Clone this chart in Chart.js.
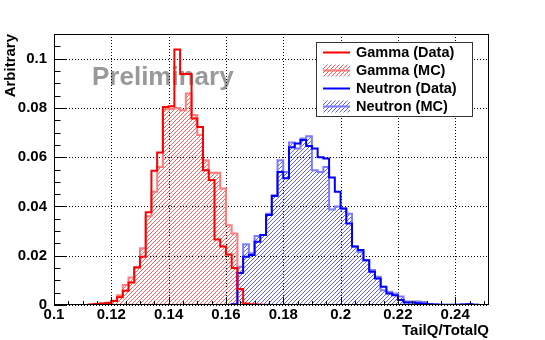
<!DOCTYPE html>
<html><head><meta charset="utf-8">
<style>html,body{margin:0;padding:0;background:#fff;} #wrap{width:545px;height:340px;}</style>
<script src="https://cdn.jsdelivr.net/npm/chart.js@4.4.0/dist/chart.umd.min.js"></script>
</head><body><div id="wrap"><canvas id="c" width="545" height="340"></canvas></div>
<script>
// ---- data ----
const binLow = [0.100,0.102,0.104,0.106,0.108,0.110,0.112,0.114,0.116,0.118,
  0.120,0.122,0.124,0.126,0.128,0.130,0.132,0.134,0.136,0.138,
  0.140,0.142,0.144,0.146,0.148,0.150,0.152,0.154,0.156,0.158,
  0.160,0.162,0.164,0.166,0.168,0.170,0.172,0.174,0.176,0.178,
  0.180,0.182,0.184,0.186,0.188,0.190,0.192,0.194,0.196,0.198,
  0.200,0.202,0.204,0.206,0.208,0.210,0.212,0.214,0.216,0.218,
  0.220,0.222,0.224,0.226,0.228,0.230,0.232,0.234,0.236,0.238,
  0.240,0.242,0.244,0.246,0.248];
const lastEdge = 0.250;

const gammaData = [null,null,null,null,null,null,0.0002,0.0004,0.0006,0.0008,
  0.0016,0.0031,0.0058,0.0091,0.0153,0.0196,0.0376,0.0545,0.0619,0.0804,
  0.0807,0.1037,0.0938,0.0938,0.0757,0.0723,0.0547,0.0507,0.0266,0.0237,
  0.0205,0.0150,0.0065,0.0006,0.0003,0.0002,0.0001,0,0,0,
  0,0,0,0,0,0,0,0,0,0,
  0,0,0,0,0,0,0,0,0,0,
  0,0,0,0,null,null,null,null,null,null,
  null,null,null,null,null];

const gammaMC = [0,0,0,0,0,0,0.0002,0.0004,0.0006,0.0009,
  0.0017,0.0040,0.0081,0.0112,0.0150,0.0230,0.0360,0.0460,0.0560,0.0795,
  0.0797,0.0800,0.0790,0.0858,0.0771,0.0690,0.0588,0.0537,0.0537,0.0473,
  0.0324,0.0290,0,0,0,0,0,0,0,0,
  0,0,0,0,0,0,0,0,0,0,
  0,0,0,0,0,0,0,0,0,0,
  0,0,0,0,0,0,0,0,0,0,
  0,0,0,0,0];

const neutronData = [0,0,0,0,0,0,0,0,0,0,
  0,0,0,0,0,0,0,0,0,0,
  0,0,0,0,0,0,0,0,0,0,
  0,0.0003,0.0130,0.0196,0.0203,0.0257,0.0284,0.0365,0.0442,0.0540,
  0.0514,0.0640,0.0656,0.0670,0.0645,0.0635,0.0600,0.0595,0.0518,0.0460,
  0.0392,0.0331,0.0237,0.0223,0.0182,0.0135,0.0108,0.0074,0.0047,0.0040,
  0.0020,0.0010,0.0010,0.0007,0.0005,0.0003,0.0002,0.0001,0.0001,0.0001,
  0.0001,0.0002,0.0003,0.0001,0];

const neutronMC = [0,0,0,0,0,0,0,0,0,0,
  0,0,0,0,0,0,0,0,0,0,
  0,0,0,0,0,0,0,0,0,0,
  0,0.0002,0.0155,0.0247,0.0210,0.0280,0.0284,0.0370,0.0445,0.0588,
  0.0540,0.0660,0.0635,0.0676,0.0685,0.0547,0.0540,0.0560,0.0388,0.0400,
  0.0392,0.0370,0.0237,0.0215,0.0182,0.0142,0.0115,0.0060,0.0054,0.0047,
  0.0034,0.0014,0.0014,0.0014,0.0012,0.0004,0.0002,0.0001,0,0,
  0.0001,0.0002,0.0003,0.0001,0];

const seriesLabels = ['Gamma (Data)','Gamma (MC)','Neutron (Data)','Neutron (MC)'];
const xTickValues = [0.10,0.12,0.14,0.16,0.18,0.20,0.22,0.24];
const xTickLabels = ['0.1','0.12','0.14','0.16','0.18','0.2','0.22','0.24'];
const yTickValues = [0,0.02,0.04,0.06,0.08,0.10];
const yTickLabels = ['0','0.02','0.04','0.06','0.08','0.1'];
const xTitle = 'TailQ/TotalQ';
const yTitle = 'Arbitrary';
const watermark = 'Preliminary';

// ---- helpers ----
function hist(vals){
  const pts = binLow.map((x,i)=>({x:x, y:vals[i]}));
  const last = vals[vals.length-1];
  if (last !== null) pts.push({x:lastEdge, y:last});
  return pts;
}
function hatch(color){
  const c = document.createElement('canvas'); c.width = 4; c.height = 4;
  const g = c.getContext('2d'); g.fillStyle = color;
  for (let i = 0; i < 4; i++) g.fillRect(i, 3 - i, 1, 1);
  return g.createPattern(c, 'repeat');
}
const FONT = 'Liberation Sans';

const framePlugin = {
  id: 'rootFrame',
  beforeDatasetsDraw(chart){
    const {ctx, chartArea:a, scales:{x, y}} = chart;
    ctx.save();
    ctx.fillStyle = '#999999';
    ctx.font = 'bold 26px "' + FONT + '"';
    ctx.textBaseline = 'alphabetic';
    ctx.fillText(watermark, 92, 85);
    ctx.strokeStyle = '#000'; ctx.lineWidth = 1; ctx.setLineDash([1,2]);
    xTickValues.forEach(v => {
      const px = Math.round(x.getPixelForValue(v)) + 0.5;
      ctx.beginPath(); ctx.moveTo(px, a.top); ctx.lineTo(px, a.bottom); ctx.stroke();
    });
    yTickValues.forEach(v => {
      const py = Math.round(y.getPixelForValue(v)) + 0.5;
      ctx.beginPath(); ctx.moveTo(a.left, py); ctx.lineTo(a.right, py); ctx.stroke();
    });
    ctx.restore();
  },
  afterDatasetsDraw(chart){
    const {ctx, chartArea:a, scales:{x, y}} = chart;
    ctx.save();
    ctx.strokeStyle = '#000'; ctx.lineWidth = 1;
    for (let k = 0; k <= 30; k++) {
      const v = 0.1 + k * 0.005;
      if (v > x.max) break;
      const px = Math.round(x.getPixelForValue(v)) + 0.5;
      const len = (k % 4 === 0) ? 8 : 4;
      ctx.beginPath(); ctx.moveTo(px, a.bottom); ctx.lineTo(px, a.bottom - len); ctx.stroke();
    }
    for (let k = 0; k <= 22; k++) {
      const v = k * 0.005;
      if (v > y.max + 1e-9) break;
      const py = Math.round(y.getPixelForValue(v)) + 0.5;
      const len = (k % 4 === 0) ? 13 : 6.5;
      ctx.beginPath(); ctx.moveTo(a.left, py); ctx.lineTo(a.left + len, py); ctx.stroke();
    }
    ctx.strokeRect(Math.round(a.left) + 0.5, Math.round(a.top) + 0.5,
                   Math.round(a.right - a.left) - 1, Math.round(a.bottom - a.top) - 1);
    const bx = 316.5, by = 42.5, bw = 156, bh = 74;
    ctx.fillStyle = '#fff'; ctx.fillRect(bx, by, bw, bh);
    ctx.strokeStyle = '#333'; ctx.strokeRect(bx, by, bw, bh);
    [0,1,2,3].forEach((di, i) => {
      const ds = chart.data.datasets[di];
      const cy = 52.5 + i * 18;
      if (ds.fill) { ctx.fillStyle = ds.backgroundColor; ctx.fillRect(323, cy - 6, 27, 12); }
      ctx.strokeStyle = ds.borderColor; ctx.lineWidth = 2;
      ctx.beginPath(); ctx.moveTo(323, cy); ctx.lineTo(350, cy); ctx.stroke();
      ctx.fillStyle = '#000'; ctx.font = 'bold 14.5px "' + FONT + '"';
      ctx.textBaseline = 'middle'; ctx.textAlign = 'left';
      ctx.fillText(ds.label, 356, cy);
    });
    ctx.restore();
  }
};

const tickFont = {family: FONT, weight: 'bold', size: 15};

new Chart(document.getElementById('c'), {
  type: 'line',
  data: {
    datasets: [
      {label: seriesLabels[0], data: hist(gammaData), borderColor: '#ff0000', borderWidth: 2, fill: false, order: 0},
      {label: seriesLabels[1], data: hist(gammaMC), borderColor: '#ff7c7c', borderWidth: 2,
       fill: 'origin', backgroundColor: hatch('rgba(255,40,40,0.75)'), order: 2},
      {label: seriesLabels[2], data: hist(neutronData), borderColor: '#0000ff', borderWidth: 2, fill: false, order: 1},
      {label: seriesLabels[3], data: hist(neutronMC), borderColor: '#7c7cff', borderWidth: 2,
       fill: 'origin', backgroundColor: hatch('rgba(40,40,255,0.75)'), order: 3}
    ]
  },
  options: {
    responsive: false, animation: false, devicePixelRatio: 1,
    layout: {padding: {left: 0, top: 34, right: 56, bottom: 0}},
    elements: {point: {radius: 0}, line: {tension: 0, stepped: 'before', borderJoinStyle: 'miter', borderCapStyle: 'butt'}},
    plugins: {legend: {display: false}, tooltip: {enabled: false}},
    scales: {
      x: {
        type: 'linear', min: 0.1, max: 0.2518,
        afterBuildTicks: s => { s.ticks = xTickValues.map(v => ({value: v})); },
        afterFit: s => { s.height = 35; },
        grid: {display: false, drawTicks: false}, border: {display: false},
        ticks: {autoSkip: false, maxRotation: 0, font: tickFont, color: '#000', padding: 1,
                callback: (v, i) => xTickLabels[i]},
        title: {display: true, text: xTitle, align: 'end', color: '#000', font: tickFont, padding: {top: 0, bottom: 0}}
      },
      y: {
        type: 'linear', min: 0, max: 0.11,
        afterBuildTicks: s => { s.ticks = yTickValues.map(v => ({value: v})); },
        afterFit: s => { s.width = 54; },
        grid: {display: false, drawTicks: false}, border: {display: false},
        ticks: {autoSkip: false, font: tickFont, color: '#000', padding: 7,
                callback: (v, i) => yTickLabels[i]},
        title: {display: true, text: yTitle, align: 'end', color: '#000', font: tickFont, padding: {top: 2, bottom: 0}}
      }
    }
  },
  plugins: [framePlugin]
});
</script>
</body></html>
